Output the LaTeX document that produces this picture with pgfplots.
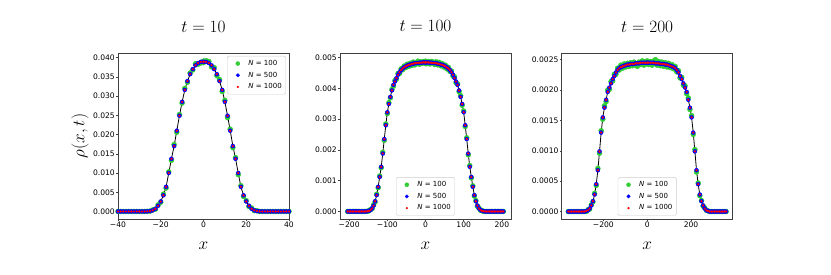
\documentclass[border=0pt]{standalone}
\usepackage[no-math]{fontspec}
\usepackage{pgfplots}
\pgfplotsset{compat=1.18}
\usepackage{pgfplotstable}
\newfontfamily\dv{DejaVu Sans}
\definecolor{lgreen}{RGB}{50,205,50}

\pgfplotstableread{
ax th gr gl
0     0.0389 0.0391 0.0387
1.25  0.0389 0.0392 0.0386
2.5   0.0386 0.0390 0.0383
3.75  0.0380 0.0376 0.0384
5.0   0.0370 0.0374 0.0368
6.25  0.0357 0.0353 0.0360
7.5   0.0339 0.0343 0.0336
8.75  0.0316 0.0312 0.0320
10.0  0.0285 0.0289 0.0282
11.25 0.0249 0.0244 0.0252
12.5  0.0210 0.0214 0.0206
13.75 0.0170 0.0166 0.0174
15.0  0.0137 0.0140 0.0133
16.25 0.0100 0.0096 0.0103
17.5  0.0064 0.0067 0.0061
18.75 0.0042 0.0039 0.0045
20.0  0.0026 0.0028 0.0024
21.25 0.0015 0.0013 0.0017
22.5  0.0007 0.0009 0.0006
23.75 0.0003 0.0002 0.0004
25.0  0.0001 0.0002 0.0001
26.25 0.00003 0.0000 0.00005
27.5  0 0 0
28.75 0 0 0
30.0  0 0 0
31.25 0 0 0
32.5  0 0 0
33.75 0 0 0
35.0  0 0 0
36.25 0 0 0
37.5  0 0 0
38.75 0 0 0
40.0  0 0 0
}\tA

\pgfplotstableread{
ax th gr gl
0 0.00484 0.00488 0.00480
4 0.00484 0.00480 0.00487
8 0.00484 0.00487 0.00481
12 0.00483 0.00479 0.00486
16 0.00483 0.00487 0.00478
20 0.00482 0.00485 0.00488
24 0.00482 0.00477 0.00480
28 0.00481 0.00486 0.00476
32 0.00480 0.00476 0.00485
36 0.00479 0.00484 0.00474
40 0.00477 0.00473 0.00481
44 0.00476 0.00480 0.00471
48 0.00474 0.00469 0.00478
52 0.00471 0.00475 0.00467
56 0.00468 0.00463 0.00472
60 0.00464 0.00468 0.00460
64 0.00459 0.00455 0.00463
68 0.00452 0.00456 0.00448
72 0.00444 0.00440 0.00448
76 0.00433 0.00437 0.00430
80 0.00422 0.00418 0.00425
84 0.00411 0.00414 0.00407
88 0.00393 0.00389 0.00396
92 0.00372 0.00376 0.00369
96 0.00349 0.00345 0.00353
100 0.00322 0.00326 0.00318
104 0.00280 0.00276 0.00284
108 0.00235 0.00239 0.00231
112 0.00188 0.00184 0.00192
116 0.00145 0.00149 0.00142
120 0.00112 0.00109 0.00115
124 0.00080 0.00083 0.00077
128 0.00053 0.00050 0.00056
132 0.00033 0.00035 0.00031
136 0.00019 0.00017 0.00021
140 0.00010 0.00011 0.00009
144 0.00005 0.00004 0.00006
148 0.00002 0.00003 0.00002
152 0.00001 0 0.00001
156 0 0 0
160 0 0 0
164 0 0 0
168 0 0 0
172 0 0 0
176 0 0 0
180 0 0 0
184 0 0 0
188 0 0 0
192 0 0 0
196 0 0 0
200 0 0 0
204 0 0 0
}\tB

\pgfplotstableread{
ax th gr gl
0 0.00245 0.00248 0.00243
7.5 0.00245 0.00242 0.00247
15 0.00245 0.00247 0.00241
22.5 0.00245 0.00241 0.00248
30 0.00245 0.00248 0.00242
37.5 0.00244 0.00250 0.00246
45 0.00244 0.00241 0.00239
52.5 0.00244 0.00247 0.00241
60 0.00243 0.00240 0.00246
67.5 0.00243 0.00246 0.00240
75 0.00243 0.00239 0.00245
82.5 0.00242 0.00245 0.00239
90 0.00242 0.00238 0.00244
97.5 0.00241 0.00244 0.00238
105 0.00240 0.00237 0.00243
112.5 0.00239 0.00242 0.00236
120 0.00238 0.00235 0.00241
127.5 0.00236 0.00239 0.00233
135 0.00233 0.00230 0.00236
142.5 0.00229 0.00232 0.00226
150 0.00223 0.00220 0.00226
157.5 0.00218 0.00221 0.00215
165 0.00211 0.00208 0.00214
172.5 0.00204 0.00207 0.00201
180 0.00197 0.00194 0.00200
187.5 0.00184 0.00187 0.00181
195 0.00171 0.00168 0.00174
202.5 0.00155 0.00158 0.00152
210 0.00130 0.00127 0.00133
217.5 0.00099 0.00102 0.00096
225 0.00068 0.00065 0.00071
232.5 0.00045 0.00047 0.00043
240 0.00028 0.00026 0.00030
247.5 0.00017 0.00018 0.00016
255 0.00010 0.00009 0.00011
262.5 0.00005 0.00006 0.00004
270 0.00002 0.00002 0.00003
277.5 0.00001 0.00001 0
285 0 0 0
292.5 0 0 0
300 0 0 0
307.5 0 0 0
315 0 0 0
322.5 0 0 0
330 0 0 0
337.5 0 0 0
345 0 0 0
352.5 0 0 0
360 0 0 0
}\tC

\pgfplotsset{
  myax/.style={
    scale only axis, width=171pt, height=166pt, anchor=south west,
    axis line style={black!75, line width=0.6pt},
    tick align=outside, major tick length=1.8pt,
    tick style={black!75, line width=0.5pt},
    xtick pos=bottom, ytick pos=left,
    ticklabel style={font=\dv\fontsize{7.6}{8}\selectfont, inner sep=1.2pt},
    title style={font=\fontsize{18}{20}\selectfont, at={(0.5,1)}, anchor=base, yshift=15pt},
    xlabel style={font=\fontsize{18}{20}\selectfont, at={(0.5,0)}, anchor=base, yshift=-30pt},
    ylabel style={font=\fontsize{18}{20}\selectfont},
    legend style={font=\dv\fontsize{7}{8}\selectfont, draw=black!20, rounded corners=1.5pt,
      inner xsep=2pt, inner ysep=2pt, row sep=1pt},
    legend cell align=left,
    legend image code/.code={%
      \path[draw=none, fill=none] (0cm,-0.08cm) rectangle (0.6cm,0.08cm);
      \draw[only marks,##1] plot coordinates {(0.3cm,0cm)};},
    scaled y ticks=false, scaled x ticks=false,
    xlabel={$x$},
  },
  gs/.style={only marks, mark=*, color=lgreen, mark size=2.5pt, legend image post style={mark size=2pt}},
  bs/.style={only marks, mark=*, color=blue, mark size=2.0pt, legend image post style={mark size=1.7pt}},
  rs/.style={only marks, mark=*, color=red, mark size=0.9pt, legend image post style={mark size=0.9pt}},
  ls/.style={black, line width=0.8pt, no marks},
}

\begin{document}
\begin{tikzpicture}
\path[use as bounding box] (0,0) rectangle (831pt,274pt);

\begin{axis}[myax, at={(118pt,55pt)},
  title={$t=10$},
  ylabel={$\rho(x,t)$},
  ylabel style={at={(axis description cs:-0.222,0.5)}, anchor=center},
  xmin=-40, xmax=40, ymin=-0.00196, ymax=0.0412,
  xtick={-40,-20,0,20,40}, xticklabels={−40,−20,0,20,40},
  ytick={0,0.005,0.01,0.015,0.02,0.025,0.03,0.035,0.04},
  yticklabels={0.000,0.005,0.010,0.015,0.020,0.025,0.030,0.035,0.040},
  legend style={at={(0.982,0.982)}, anchor=north east},
]
\addplot[gs] table[x=ax, y=gr]{\tA}; \addlegendentry{\textit{N} = 100}
\addplot[gs, forget plot] table[x expr=-\thisrow{ax}, y=gl]{\tA};
\addplot[bs] table[x=ax, y=th]{\tA}; \addlegendentry{\textit{N} = 500}
\addplot[bs, forget plot] table[x expr=-\thisrow{ax}, y=th]{\tA};
\addplot[ls, forget plot] table[x=ax, y=th]{\tA};
\addplot[ls, forget plot] table[x expr=-\thisrow{ax}, y=th]{\tA};
\addplot[rs] table[x=ax, y=th]{\tA}; \addlegendentry{\textit{N} = 1000}
\addplot[rs, forget plot] table[x expr=-\thisrow{ax}, y=th]{\tA};
\end{axis}

\begin{axis}[myax, at={(340pt,55pt)},
  title={$t=100$},
  xmin=-224, xmax=224, ymin=-0.000245, ymax=0.005145,
  xtick={-200,-100,0,100,200}, xticklabels={−200,−100,0,100,200},
  ytick={0,0.001,0.002,0.003,0.004,0.005},
  yticklabels={0.000,0.001,0.002,0.003,0.004,0.005},
  legend style={at={(0.5,0.02)}, anchor=south},
]
\addplot[gs] table[x=ax, y=gr]{\tB}; \addlegendentry{\textit{N} = 100}
\addplot[gs, forget plot] table[x expr=-\thisrow{ax}, y=gl]{\tB};
\addplot[bs] table[x=ax, y=th]{\tB}; \addlegendentry{\textit{N} = 500}
\addplot[bs, forget plot] table[x expr=-\thisrow{ax}, y=th]{\tB};
\addplot[ls, forget plot] table[x=ax, y=th]{\tB};
\addplot[ls, forget plot] table[x expr=-\thisrow{ax}, y=th]{\tB};
\addplot[rs] table[x=ax, y=th]{\tB}; \addlegendentry{\textit{N} = 1000}
\addplot[rs, forget plot] table[x expr=-\thisrow{ax}, y=th]{\tB};
\end{axis}

\begin{axis}[myax, at={(561.7pt,55pt)},
  title={$t=200$},
  xmin=-390, xmax=390, ymin=-0.000123, ymax=0.00261,
  xtick={-200,0,200}, xticklabels={−200,0,200},
  ytick={0,0.0005,0.001,0.0015,0.002,0.0025},
  yticklabels={0.0000,0.0005,0.0010,0.0015,0.0020,0.0025},
  legend style={at={(0.5,0.02)}, anchor=south},
]
\addplot[gs] table[x=ax, y=gr]{\tC}; \addlegendentry{\textit{N} = 100}
\addplot[gs, forget plot] table[x expr=-\thisrow{ax}, y=gl]{\tC};
\addplot[bs] table[x=ax, y=th]{\tC}; \addlegendentry{\textit{N} = 500}
\addplot[bs, forget plot] table[x expr=-\thisrow{ax}, y=th]{\tC};
\addplot[ls, forget plot] table[x=ax, y=th]{\tC};
\addplot[ls, forget plot] table[x expr=-\thisrow{ax}, y=th]{\tC};
\addplot[rs] table[x=ax, y=th]{\tC}; \addlegendentry{\textit{N} = 1000}
\addplot[rs, forget plot] table[x expr=-\thisrow{ax}, y=th]{\tC};
\end{axis}
\end{tikzpicture}
\end{document}
